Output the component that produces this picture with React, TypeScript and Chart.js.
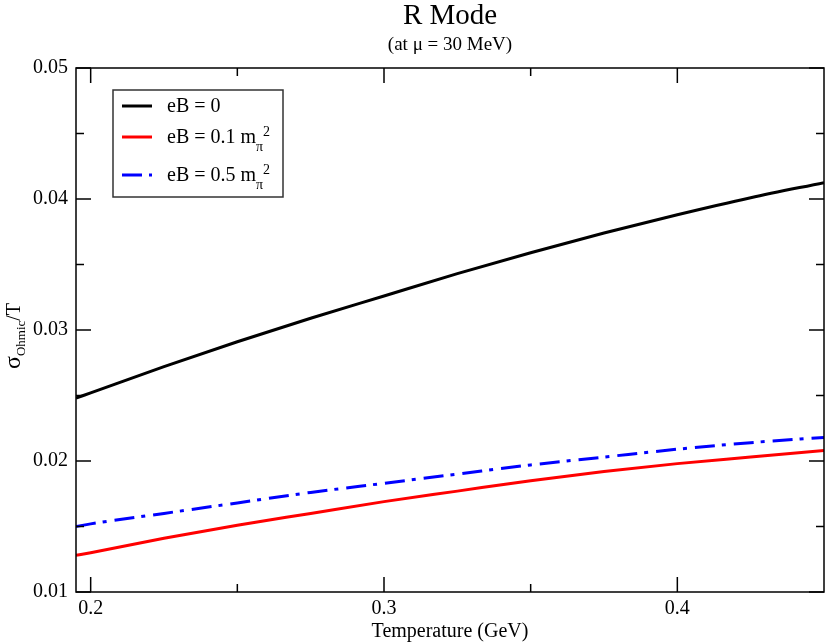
import { useEffect, useRef } from "react";
import { Chart, registerables } from "chart.js";

Chart.register(...registerables);

// Temperature (GeV)
const temperature = [0.195, 0.2, 0.225, 0.25, 0.275, 0.3, 0.325, 0.35, 0.375, 0.4, 0.425, 0.45];
// sigma_Ohmic / T
const eB0 = [0.0248, 0.0252, 0.0272, 0.0291, 0.0309, 0.0326, 0.0343, 0.0359, 0.0374, 0.0388, 0.0401, 0.04125];
const eB01 = [0.0128, 0.013, 0.0141, 0.0151, 0.016, 0.0169, 0.0177, 0.0185, 0.0192, 0.0198, 0.0203, 0.0208];
const eB05 = [0.015, 0.0152, 0.016, 0.0168, 0.0176, 0.0183, 0.019, 0.0197, 0.0203, 0.0209, 0.0214, 0.0218];

const xTicks = [0.2, 0.3, 0.4];
const xMinorTicks = [0.25, 0.35];
const yTicks = [0.01, 0.02, 0.03, 0.04, 0.05];
const yMinorTicks = [0.015, 0.025, 0.035, 0.045];

const SERIF = "'Liberation Serif', 'DejaVu Serif', serif";

type Part = { text: string; size: number; dy?: number };

// draws text pieces one after another, each with its own size and baseline shift
function drawRich(ctx: CanvasRenderingContext2D, parts: Part[], x: number, y: number, align: "left" | "center") {
  let total = 0;
  parts.forEach((p) => {
    ctx.font = `${p.size}px ${SERIF}`;
    total += ctx.measureText(p.text).width;
  });
  let cx = align === "center" ? x - total / 2 : x;
  ctx.textAlign = "left";
  ctx.textBaseline = "alphabetic";
  parts.forEach((p) => {
    ctx.font = `${p.size}px ${SERIF}`;
    ctx.fillText(p.text, cx, y + (p.dy || 0));
    cx += ctx.measureText(p.text).width;
  });
}

const legendItems = [
  { color: "#000000", dash: [] as number[], parts: [{ text: "eB = 0", size: 20 }] },
  {
    color: "#ff0000",
    dash: [] as number[],
    parts: [
      { text: "eB = 0.1 m", size: 20 },
      { text: "π", size: 14, dy: 8 },
      { text: "2", size: 14, dy: -7 },
    ],
  },
  {
    color: "#0000ff",
    dash: [20, 7, 4, 8],
    parts: [
      { text: "eB = 0.5 m", size: 20 },
      { text: "π", size: 14, dy: 8 },
      { text: "2", size: 14, dy: -7 },
    ],
  },
];

const decorations = {
  id: "decorations",
  afterDatasetsDraw(chart: any) {
    const { ctx, chartArea: a, scales } = chart;
    const x = scales.x;
    const y = scales.y;
    ctx.save();
    ctx.strokeStyle = "#000";
    ctx.lineWidth = 1.5;
    ctx.setLineDash([]);
    ctx.strokeRect(a.left, a.top, a.right - a.left, a.bottom - a.top);

    // inward ticks on all four sides
    const tick = (x1: number, y1: number, x2: number, y2: number) => {
      ctx.beginPath();
      ctx.moveTo(x1, y1);
      ctx.lineTo(x2, y2);
      ctx.stroke();
    };
    xTicks.forEach((v) => {
      const px = x.getPixelForValue(v);
      tick(px, a.bottom, px, a.bottom - 15);
      tick(px, a.top, px, a.top + 15);
    });
    xMinorTicks.forEach((v) => {
      const px = x.getPixelForValue(v);
      tick(px, a.bottom, px, a.bottom - 8);
      tick(px, a.top, px, a.top + 8);
    });
    yTicks.forEach((v) => {
      const py = y.getPixelForValue(v);
      tick(a.left, py, a.left + 15, py);
      tick(a.right, py, a.right - 15, py);
    });
    yMinorTicks.forEach((v) => {
      const py = y.getPixelForValue(v);
      tick(a.left, py, a.left + 8, py);
      tick(a.right, py, a.right - 8, py);
    });

    // legend box
    const lx = a.left + 37;
    const ly = a.top + 22;
    ctx.fillStyle = "#fff";
    ctx.fillRect(lx, ly, 170, 107);
    ctx.strokeStyle = "#333";
    ctx.lineWidth = 1.5;
    ctx.strokeRect(lx, ly, 170, 107);
    const rows = [22, 53, 91];
    legendItems.forEach((item, i) => {
      const by = ly + rows[i];
      ctx.strokeStyle = item.color;
      ctx.lineWidth = 3;
      ctx.setLineDash(item.dash);
      tick(lx + 9, by - 6, lx + 39, by - 6);
      ctx.setLineDash([]);
      ctx.fillStyle = "#000";
      drawRich(ctx, item.parts, lx + 54, by, "left");
    });

    // titles
    const cx = (a.left + a.right) / 2;
    ctx.fillStyle = "#000";
    drawRich(ctx, [{ text: "R Mode", size: 29 }], cx, 24, "center");
    drawRich(ctx, [{ text: "(at μ = 30 MeV)", size: 19 }], cx, 50, "center");
    drawRich(ctx, [{ text: "Temperature (GeV)", size: 20 }], cx, 637, "center");

    ctx.save();
    ctx.translate(20, (a.top + a.bottom) / 2 + 6);
    ctx.rotate(-Math.PI / 2);
    drawRich(
      ctx,
      [
        { text: "σ", size: 24 },
        { text: "Ohmic", size: 13, dy: 5 },
        { text: "/T", size: 20 },
      ],
      0,
      0,
      "center"
    );
    ctx.restore();
    ctx.restore();
  },
};

export default function App() {
  const chartRef: any = useRef(null);

  useEffect(() => {
    document.body.style.margin = "0";
    const ctx = chartRef.current.getContext("2d");
    const toPoints = (vals: number[]) => temperature.map((t, i) => ({ x: t, y: vals[i] }));
    const line = { pointRadius: 0, borderWidth: 3, cubicInterpolationMode: "monotone" as const, fill: false };

    const theChart = new Chart(ctx, {
      type: "line",
      data: {
        datasets: [
          { label: "eB = 0", data: toPoints(eB0), borderColor: "#000000", ...line },
          { label: "eB = 0.1", data: toPoints(eB01), borderColor: "#ff0000", ...line },
          { label: "eB = 0.5", data: toPoints(eB05), borderColor: "#0000ff", borderDash: [20, 7, 4, 8], ...line },
        ],
      },
      plugins: [decorations],
      options: {
        animation: false,
        responsive: true,
        maintainAspectRatio: false,
        layout: { padding: { left: 0, top: 68, right: 4, bottom: 0 } },
        plugins: {
          legend: { display: false },
          tooltip: { enabled: false },
        },
        scales: {
          x: {
            type: "linear",
            min: 0.195,
            max: 0.45,
            grid: { display: false },
            border: { display: false },
            afterBuildTicks: (scale: any) => {
              scale.ticks = xTicks.map((v) => ({ value: v }));
            },
            afterFit: (scale: any) => {
              scale.height = 50;
            },
            ticks: {
              padding: -3,
              color: "#000",
              font: { family: SERIF, size: 20 },
              maxRotation: 0,
              callback: (v: any) => Number(v).toFixed(1),
            },
          },
          y: {
            min: 0.01,
            max: 0.05,
            grid: { display: false },
            border: { display: false },
            afterBuildTicks: (scale: any) => {
              scale.ticks = yTicks.map((v) => ({ value: v }));
            },
            afterFit: (scale: any) => {
              scale.width = 76;
            },
            ticks: {
              padding: 0,
              color: "#000",
              font: { family: SERIF, size: 20 },
              callback: (v: any) => Number(v).toFixed(2),
            },
          },
        },
      },
    });

    return () => {
      theChart.destroy();
    };
  }, []);

  return (
    <div style={{ width: 828, height: 642, position: "relative" }}>
      <canvas ref={chartRef} />
    </div>
  );
}
